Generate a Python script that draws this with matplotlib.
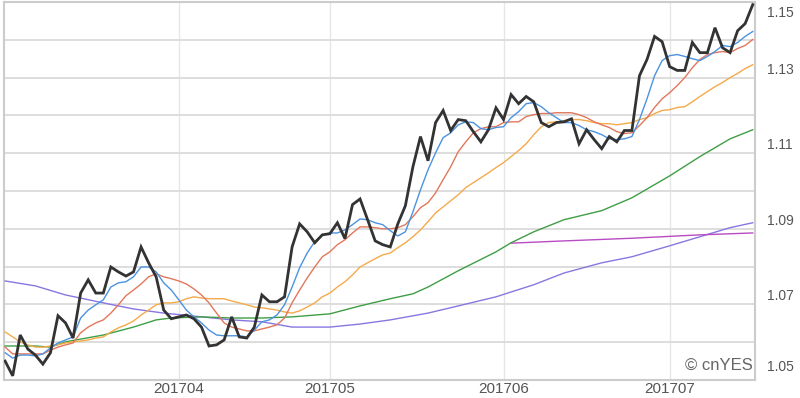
import matplotlib
matplotlib.use("Agg")
import matplotlib.pyplot as plt
import pandas as pd

# ---------------- data ----------------
start_date = "2017-03-01"
n_days = 100
month_labels = ["201704", "201705", "201706", "201707"]

close = [1.0550, 1.0511, 1.0619, 1.0582, 1.0566, 1.0542, 1.0572, 1.0670, 1.0651, 1.0611,
         1.0730, 1.0765, 1.0730, 1.0730, 1.0799, 1.0786, 1.0775, 1.0786, 1.0852, 1.0810,
         1.0773, 1.0685, 1.0662, 1.0667, 1.0672, 1.0662, 1.0640, 1.0590, 1.0593, 1.0606,
         1.0667, 1.0614, 1.0611, 1.0640, 1.0725, 1.0707, 1.0707, 1.0720, 1.0852, 1.0913,
         1.0892, 1.0863, 1.0884, 1.0887, 1.0916, 1.0874, 1.0964, 1.0979, 1.0924, 1.0868,
         1.0858, 1.0852, 1.0913, 1.0961, 1.1064, 1.1144, 1.1080, 1.1181, 1.1213, 1.1160,
         1.1189, 1.1186, 1.1157, 1.1130, 1.1162, 1.1220, 1.1189, 1.1255, 1.1231, 1.1250,
         1.1236, 1.1181, 1.1170, 1.1181, 1.1183, 1.1191, 1.1125, 1.1162, 1.1136, 1.1112,
         1.1144, 1.1130, 1.1160, 1.1160, 1.1305, 1.1348, 1.1409, 1.1395, 1.1329, 1.1319,
         1.1319, 1.1393, 1.1366, 1.1366, 1.1432, 1.1379, 1.1366, 1.1424, 1.1443, 1.1493]

ma5 = [1.0572, 1.0558, 1.0566, 1.0566, 1.0564, 1.0569, 1.0585, 1.0598, 1.0606, 1.0614,
       1.0664, 1.0685, 1.0699, 1.0712, 1.0746, 1.0757, 1.0760, 1.0773, 1.0799, 1.0799,
       1.0786, 1.0757, 1.0738, 1.0712, 1.0685, 1.0667, 1.0651, 1.0632, 1.0619, 1.0617,
       1.0617, 1.0617, 1.0614, 1.0632, 1.0654, 1.0659, 1.0672, 1.0699, 1.0746, 1.0797,
       1.0836, 1.0866, 1.0884, 1.0889, 1.0889, 1.0897, 1.0911, 1.0926, 1.0924, 1.0916,
       1.0911, 1.0895, 1.0881, 1.0892, 1.0945, 1.1003, 1.1056, 1.1101, 1.1141, 1.1154,
       1.1175, 1.1183, 1.1181, 1.1165, 1.1162, 1.1168, 1.1170, 1.1194, 1.1210, 1.1231,
       1.1234, 1.1223, 1.1207, 1.1194, 1.1181, 1.1181, 1.1173, 1.1162, 1.1157, 1.1149,
       1.1138, 1.1136, 1.1138, 1.1144, 1.1189, 1.1244, 1.1305, 1.1345, 1.1358, 1.1361,
       1.1356, 1.1350, 1.1345, 1.1356, 1.1369, 1.1385, 1.1382, 1.1393, 1.1409, 1.1422]

ma10 = [1.0587, 1.0569, 1.0569, 1.0569, 1.0569, 1.0569, 1.0579, 1.0587, 1.0593, 1.0598,
        1.0625, 1.0640, 1.0651, 1.0659, 1.0677, 1.0699, 1.0723, 1.0738, 1.0754, 1.0773,
        1.0781, 1.0773, 1.0768, 1.0762, 1.0754, 1.0741, 1.0725, 1.0704, 1.0677, 1.0651,
        1.0640, 1.0635, 1.0630, 1.0630, 1.0635, 1.0640, 1.0646, 1.0664, 1.0704, 1.0738,
        1.0770, 1.0799, 1.0826, 1.0839, 1.0858, 1.0871, 1.0889, 1.0905, 1.0905, 1.0903,
        1.0900, 1.0900, 1.0903, 1.0911, 1.0932, 1.0956, 1.0969, 1.0995, 1.1030, 1.1064,
        1.1104, 1.1130, 1.1154, 1.1165, 1.1170, 1.1170, 1.1181, 1.1183, 1.1183, 1.1197,
        1.1202, 1.1205, 1.1205, 1.1207, 1.1207, 1.1207, 1.1202, 1.1194, 1.1183, 1.1175,
        1.1168, 1.1157, 1.1152, 1.1154, 1.1173, 1.1194, 1.1221, 1.1244, 1.1260, 1.1279,
        1.1300, 1.1326, 1.1348, 1.1361, 1.1366, 1.1369, 1.1366, 1.1377, 1.1385, 1.1401]

ma20 = [1.0627, 1.0614, 1.0601, 1.0593, 1.0587, 1.0587, 1.0590, 1.0593, 1.0598, 1.0601,
        1.0603, 1.0606, 1.0611, 1.0614, 1.0627, 1.0638, 1.0646, 1.0656, 1.0672, 1.0685,
        1.0699, 1.0704, 1.0704, 1.0707, 1.0715, 1.0720, 1.0717, 1.0715, 1.0715, 1.0715,
        1.0709, 1.0704, 1.0699, 1.0693, 1.0691, 1.0688, 1.0685, 1.0680, 1.0677, 1.0683,
        1.0693, 1.0704, 1.0720, 1.0730, 1.0746, 1.0760, 1.0778, 1.0799, 1.0810, 1.0821,
        1.0831, 1.0836, 1.0850, 1.0863, 1.0879, 1.0897, 1.0919, 1.0942, 1.0958, 1.0974,
        1.0990, 1.1009, 1.1022, 1.1035, 1.1048, 1.1062, 1.1075, 1.1091, 1.1107, 1.1125,
        1.1149, 1.1170, 1.1181, 1.1183, 1.1186, 1.1189, 1.1189, 1.1186, 1.1181, 1.1178,
        1.1178, 1.1175, 1.1178, 1.1181, 1.1189, 1.1194, 1.1205, 1.1213, 1.1215, 1.1221,
        1.1223, 1.1236, 1.1250, 1.1263, 1.1276, 1.1287, 1.1300, 1.1311, 1.1324, 1.1334]

ma60_idx = [0, 4, 6, 8, 13, 17, 20, 22, 26, 30, 34, 38, 43, 47, 51, 54, 56, 60, 65, 67,
            70, 74, 79, 83, 88, 92, 96, 99]
ma60 = [1.0590, 1.0590, 1.0587, 1.0601, 1.0619, 1.0640, 1.0659, 1.0664, 1.0667, 1.0664,
        1.0664, 1.0667, 1.0675, 1.0696, 1.0715, 1.0728, 1.0746, 1.0789, 1.0839, 1.0863,
        1.0892, 1.0924, 1.0948, 1.0982, 1.1040, 1.1091, 1.1138, 1.1162]

ma120_idx = [0, 4, 8, 13, 17, 21, 26, 30, 34, 38, 43, 47, 51, 56, 60, 65, 70, 74, 79, 83,
             88, 92, 96, 99]
ma120 = [1.0762, 1.0749, 1.0725, 1.0704, 1.0688, 1.0677, 1.0667, 1.0659, 1.0654, 1.0640,
         1.0640, 1.0648, 1.0659, 1.0677, 1.0696, 1.0720, 1.0752, 1.0783, 1.0810, 1.0826,
         1.0855, 1.0879, 1.0903, 1.0916]

ma240_idx = [67, 74, 83, 92, 99]
ma240 = [1.0862, 1.0868, 1.0875, 1.0884, 1.0889]

y_ticks = [1.05, 1.06, 1.07, 1.08, 1.09, 1.10, 1.11, 1.12, 1.13, 1.14, 1.15]
y_labels = ["1.05", "1.07", "1.09", "1.11", "1.13", "1.15"]

# ---------------- figure ----------------
plt.rcParams["font.family"] = ["Liberation Sans", "DejaVu Sans"]
fig = plt.figure(figsize=(8.0, 3.98), dpi=100)
ax = fig.add_axes([4 / 800, 18 / 398, 751 / 800, 378 / 398])

dates = pd.bdate_range(start_date, periods=n_days)
x = list(range(n_days))
month_pos = [i for i in range(1, n_days) if dates[i].month != dates[i - 1].month]

ax.plot(ma120_idx, ma120, color="#8a76e0", lw=1.0, zorder=3)
ax.plot(ma240_idx, ma240, color="#b94cc4", lw=1.0, zorder=3)
ax.plot(ma60_idx, ma60, color="#3f9e45", lw=1.0, zorder=4)
ax.plot(x, ma20, color="#f5aa4a", lw=1.0, zorder=5)
ax.plot(x, ma10, color="#e2775c", lw=1.0, zorder=6)
ax.plot(x, ma5, color="#4b93e0", lw=1.0, zorder=7)
ax.plot(x, close, color="#333333", lw=2.0, zorder=8, solid_joinstyle="miter")

ax.set_xlim(-0.15, 99.3)
ax.set_ylim(1.05, 1.15)

# grid
ax.set_yticks(y_ticks)
ax.set_yticklabels([])
ax.set_xticks(month_pos)
ax.set_xticklabels(month_labels[:len(month_pos)], fontsize=11, color="#555555")
ax.tick_params(axis="both", length=0)
ax.tick_params(axis="x", pad=1.5)
ax.tick_params(axis="y", left=False, right=False, labelleft=False)
ax.grid(axis="y", color="#dddddd", lw=1.4)
ax.grid(axis="x", color="#e6e6e6", lw=1.0)
ax.set_axisbelow(True)
for s in ax.spines.values():
    s.set_color("#cccccc")
    s.set_linewidth(1.5)

# right-side price labels (slightly offset from their grid lines)
offsets = {"1.05": 13, "1.15": -11}
for lab in y_labels:
    dy = offsets.get(lab, 8)
    ax.annotate(lab, xy=(1.0, float(lab)), xycoords=("axes fraction", "data"),
                xytext=(12, dy), textcoords="offset pixels", ha="left", va="center",
                fontsize=10, color="#555555", annotation_clip=False)

ax.text(0.997, 0.04, "\u00a9 cnYES", transform=ax.transAxes, ha="right", va="center",
        fontsize=12, color="#666666", zorder=10)

fig.savefig("out.png", dpi=100)
